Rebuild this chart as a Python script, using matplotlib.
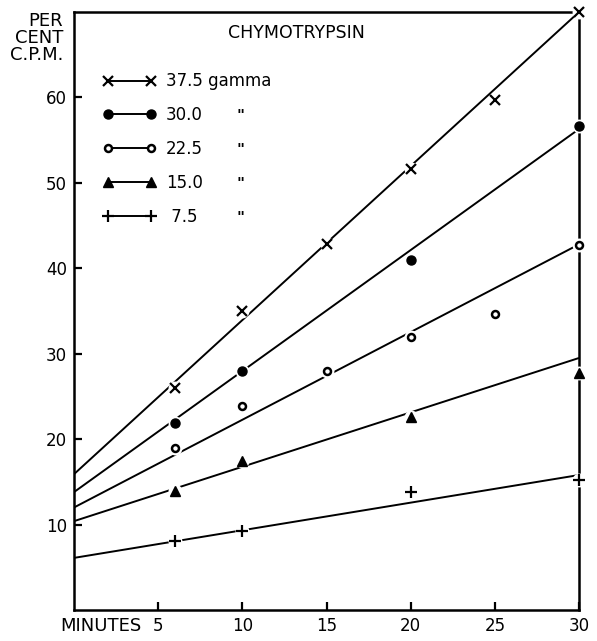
import matplotlib.pyplot as plt
import numpy as np

plt.rcParams['font.family'] = ['DejaVu Sans']

# minutes at which each sample was counted
t_375 = [6, 10, 15, 20, 25, 30]
y_375 = [26, 35, 42.8, 51.6, 59.7, 70]
t_300 = [6, 10, 20, 30]
y_300 = [21.9, 28, 41, 56.7]
t_225 = [6, 10, 15, 20, 25, 30]
y_225 = [19, 23.9, 28, 31.9, 34.6, 42.7]
t_150 = [6, 10, 20, 30]
y_150 = [13.9, 17.5, 22.6, 27.8]
t_75 = [6, 10, 20, 30]
y_75 = [8.1, 9.3, 13.8, 15.2]

# hand drawn lines: value at 0 min and at 30 min
line_t = [0, 30]
line_375 = [15.9, 70]
line_300 = [13.8, 56.3]
line_225 = [12.0, 42.8]
line_150 = [10.4, 29.5]
line_75 = [6.1, 15.8]

labels = ['37.5 gamma', '30.0', '22.5', '15.0', ' 7.5']
xticks = [5, 10, 15, 20, 25, 30]
yticks = [10, 20, 30, 40, 50, 60]

fig = plt.figure(figsize=(5.97, 6.41), dpi=100)
ax = fig.add_axes([74/597, 31/641, 505/597, 598/641])

series = [
    (t_375, y_375, line_375, dict(marker='x', ms=7, mew=1.6, color='k')),
    (t_300, y_300, line_300, dict(marker='o', ms=6.5, color='k')),
    (t_225, y_225, line_225, dict(marker='o', ms=5, mew=1.8, mfc='white', color='k')),
    (t_150, y_150, line_150, dict(marker='^', ms=6.5, color='k')),
    (t_75, y_75, line_75, dict(marker='+', ms=8, mew=1.6, color='k')),
]

handles = []
for (t, y, ln, st), lab in zip(series, labels):
    ax.plot(line_t, ln, color='k', lw=1.4, zorder=2, solid_capstyle='butt')
    # small white patch so the line (and the frame) breaks around each mark
    ax.plot(t, y, ls='none', marker='o', ms=10, mfc='white', mec='none',
            zorder=3, clip_on=False)
    ax.plot(t, y, ls='none', zorder=4, clip_on=False, **st)
    h, = ax.plot([], [], ls='-', lw=1.4, label=lab, **st)
    handles.append(h)

ax.set_xlim(0, 30)
ax.set_ylim(0, 70)
ax.set_xticks(xticks)
ax.set_yticks(yticks)
ax.tick_params(direction='in', length=6, width=1.6, labelsize=12, pad=5)
for s in ax.spines.values():
    s.set_linewidth(1.8)

leg = ax.legend(handles=handles, loc='upper left', bbox_to_anchor=(0.057, 0.899),
                frameon=False, fontsize=12, numpoints=2, handlelength=3.2,
                handletextpad=0.6, labelspacing=0.955, borderpad=0, borderaxespad=0)

for k in range(4):
    ax.text(0.33, 0.826 - k * 0.0572, '"', transform=ax.transAxes,
            fontsize=11, fontweight='bold', ha='center', va='center')

ax.text(0.44, 0.965, 'CHYMOTRYPSIN', transform=ax.transAxes, fontsize=12.5,
        ha='center', va='center')

fig.text(63/597, 1 - 12/641, 'PER\nCENT\nC.P.M.', ha='right', va='top',
         multialignment='right', fontsize=13, linespacing=0.93)
fig.text(141/597, 1 - 626/641, 'MINUTES', ha='right', va='center', fontsize=13)

fig.savefig('out.png', dpi=100)
